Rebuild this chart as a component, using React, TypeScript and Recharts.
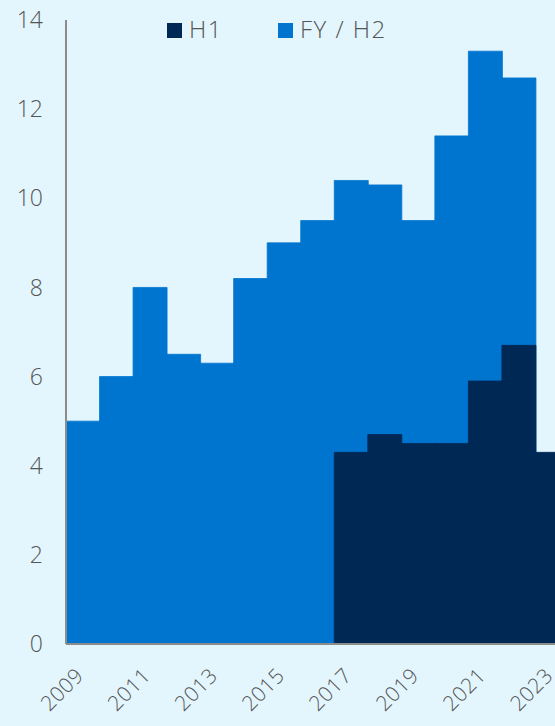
import React from "react";
import { ComposedChart, Bar, XAxis, YAxis } from "recharts";

const years = ["2009","2010","2011","2012","2013","2014","2015","2016","2017","2018","2019","2020","2021","2022","2023"];
const fyH2 = [5.0, 6.0, 8.0, 6.5, 6.3, 8.2, 9.0, 9.5, 10.4, 10.3, 9.5, 11.4, 13.3, 12.7, null];
const h1 = [null, null, null, null, null, null, null, null, 4.3, 4.7, 4.5, 4.5, 5.9, 6.7, 4.3];
const yTicks = [0, 2, 4, 6, 8, 10, 12, 14];

const data = years.map((y, i) => ({ year: y, fy: fyH2[i], h1: h1[i] }));

const BG = "#e3f5fd";
const NAVY = "#002855";
const BLUE = "#0075cf";
const TEXT = "#555555";
const AXIS = "#8c8c8c";
const FONT = "'Open Sans', 'Noto Sans', sans-serif";

const XTick = (props: any) => {
  const { x, y, payload } = props;
  const ax = x + 2;
  const ay = y + 33;
  return (
    <text
      x={ax}
      y={ay}
      textAnchor="end"
      fill={TEXT}
      fontSize={21}
      fontFamily={FONT}
      fontWeight={300}
      letterSpacing={0.5}
      transform={`rotate(-45, ${ax}, ${ay})`}
    >
      {payload.value}
    </text>
  );
};

export default function App() {
  return (
    <div
      style={{
        position: "absolute",
        left: 0,
        top: 0,
        width: 555,
        height: 726,
        overflow: "hidden",
        background: BG,
        fontFamily: FONT,
      }}
    >
      <ComposedChart
        width={569}
        height={726}
        data={data}
        margin={{ top: 20, right: 0, bottom: 0, left: 0 }}
        barCategoryGap={0}
        barGap={0}
      >
        <XAxis
          xAxisId="a"
          dataKey="year"
          interval={1}
          height={82}
          tickLine={false}
          tickSize={0}
          tickMargin={0}
          axisLine={{ stroke: AXIS, strokeWidth: 2 }}
          tick={<XTick />}
        />
        <XAxis xAxisId="b" dataKey="year" hide />
        <YAxis
          width={66}
          domain={[0, 14]}
          ticks={yTicks}
          interval={0}
          tickLine={false}
          tickSize={0}
          tickMargin={23}
          axisLine={{ stroke: AXIS, strokeWidth: 2 }}
          tick={{ fill: TEXT, fontSize: 23, fontFamily: FONT, fontWeight: 300 }}
        />
        <Bar xAxisId="b" dataKey="fy" name="FY / H2" fill={BLUE} stroke={BLUE} strokeWidth={0.8} isAnimationActive={false} />
        <Bar xAxisId="a" dataKey="h1" name="H1" fill={NAVY} stroke={NAVY} strokeWidth={0.8} isAnimationActive={false} />
      </ComposedChart>
      <div
        style={{
          position: "absolute",
          top: 14,
          left: 167,
          display: "flex",
          alignItems: "center",
          fontSize: 24,
          fontWeight: 300,
          letterSpacing: 1.5,
          color: TEXT,
          lineHeight: "30px",
          whiteSpace: "nowrap",
        }}
      >
        <span style={{ width: 15, height: 15, background: NAVY, display: "inline-block", marginRight: 7, marginTop: 2 }} />
        <span style={{ marginRight: 55 }}>H1</span>
        <span style={{ width: 15, height: 15, background: BLUE, display: "inline-block", marginRight: 7, marginTop: 2 }} />
        <span>FY / H2</span>
      </div>
    </div>
  );
}
